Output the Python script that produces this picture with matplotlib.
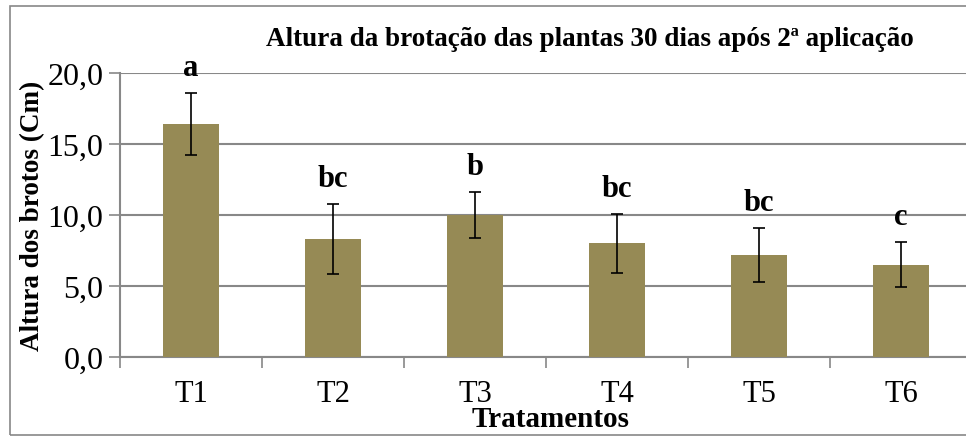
#plot.py
#Bar chart: shoot height 30 days after the 2nd application

import matplotlib
matplotlib.use("Agg")
from matplotlib import pyplot as plt
from matplotlib.patches import Rectangle

#Data
tratamentos = ["T1", "T2", "T3", "T4", "T5", "T6"]
altura = [16.4, 8.3, 10.0, 8.0, 7.2, 6.5]
erro = [2.2, 2.45, 1.62, 2.05, 1.9, 1.6]
letras = ["a", "bc", "b", "bc", "bc", "c"]

plt.rcParams["font.family"] = ["Liberation Serif", "DejaVu Serif"]

fig = plt.figure(figsize=(9.66, 4.39), dpi=100)
ax = fig.add_axes([120/966, 81/439, 852/966, 284/439])

x = range(len(tratamentos))
ax.bar(x, altura, width=0.4, color="#968A55", zorder=3)
ax.errorbar(x, altura, yerr=erro, fmt="none", ecolor="black",
            elinewidth=1.2, capsize=4, capthick=1.2, zorder=4)

#Letters above the error bars
for i in x:
    ax.text(i, altura[i] + erro[i] + 1.8, letras[i], ha="center", va="center",
            fontsize=22, fontweight="bold", zorder=5)

#Format plot
ax.set_xlim(-0.5, 5.5)
ax.set_ylim(0, 20)
ax.set_yticks([0, 5, 10, 15, 20])
ax.set_yticklabels(["0,0", "5,0", "10,0", "15,0", "20,0"])
ax.set_xticks(list(x))
ax.set_xticklabels(tratamentos)
ax.set_xticks([i - 0.5 for i in range(len(tratamentos) + 1)], minor=True)
ax.tick_params(axis="x", which="major", length=0, labelsize=22, pad=16)
ax.tick_params(axis="x", which="minor", length=8, color="#888888", width=1.2)
ax.tick_params(axis="y", length=8, color="#888888", width=1.2, labelsize=23, pad=4)
ax.grid(axis="y", color="#888888", linewidth=1.5, zorder=0)

for side in ["top", "right"]:
    ax.spines[side].set_visible(False)
for side in ["left", "bottom"]:
    ax.spines[side].set_color("#888888")
    ax.spines[side].set_linewidth(1.5)

ax.text(-0.103, 0.5, "Altura dos brotos (Cm)", transform=ax.transAxes,
        rotation=90, ha="center", va="center", fontsize=19.5, fontweight="bold")
ax.text(0.505, -0.218, "Tratamentos", transform=ax.transAxes,
        ha="center", va="center", fontsize=21, fontweight="bold")
ax.text(0.552, 1.12, "Altura da brotação das plantas 30 dias após 2ª aplicação",
        transform=ax.transAxes, ha="center", va="center",
        fontsize=19.5, fontweight="bold")

#Outer chart border
fig.patches.append(Rectangle((10/966, 3/439), 1.0, 429/439, transform=fig.transFigure,
                             fill=False, edgecolor="#888888", linewidth=1.2))

fig.savefig("out.png", dpi=100)
